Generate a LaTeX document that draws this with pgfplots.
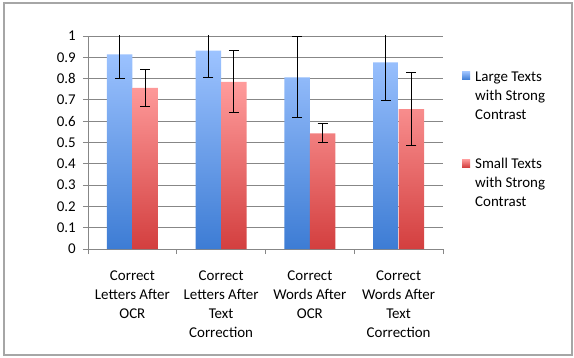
\documentclass[border=0pt]{standalone}
\usepackage{fontspec}
\setmainfont{Carlito}
\usepackage{pgfplots}
\usepackage{pgfplotstable}
\pgfplotsset{compat=1.18}
\definecolor{bluetop}{HTML}{9DC3FF}
\definecolor{bluebot}{HTML}{3D7CD4}
\definecolor{redtop}{HTML}{FF9C9C}
\definecolor{redbot}{HTML}{D33F3F}
\definecolor{gridgray}{HTML}{878787}
\definecolor{framegray}{HTML}{A6A6A6}
\pgfplotstableread{
x y e
0 0.914 0.114
1 0.931 0.125
2 0.806 0.190
3 0.876 0.181
}\largetab
\pgfplotstableread{
x y e
0 0.757 0.087
1 0.785 0.145
2 0.543 0.045
3 0.657 0.172
}\smalltab
\begin{document}
\fontsize{15}{19}\selectfont
\begin{tikzpicture}
\useasboundingbox (-88bp,-109bp) rectangle (486bp,249bp);
\draw[framegray, line width=1.2bp] (-84bp,-106bp) rectangle (484bp,246bp);
\begin{axis}[
  at={(0,0)}, anchor=south west,
  scale only axis, width=355bp, height=213bp,
  xmin=-0.5, xmax=3.5, ymin=0, ymax=1,
  ybar=0pt, bar width=25.5bp,
  axis x line*=bottom, axis y line*=left,
  axis line style={gridgray, line width=0.8bp, -},
  ytick={0,0.1,0.2,0.3,0.4,0.5,0.6,0.7,0.8,0.9,1},
  yticklabels={0,0.1,0.2,0.3,0.4,0.5,0.6,0.7,0.8,0.9,1},
  yticklabel style={xshift=-2bp},
  ymajorgrids, major grid style={gridgray, line width=0.8bp},
  tick align=outside, major tick length=5bp, minor tick length=5bp,
  y tick style={gridgray, line width=0.8bp},
  xtick={0,1,2,3},
  xticklabels={{Correct\\Letters After\\OCR},{Correct\\Letters After\\Text\\Correction},{Correct\\Words After\\OCR},{Correct\\Words After\\Text\\Correction}},
  xticklabel style={align=center, yshift=-12bp},
  x tick style={draw=none},
  minor xtick={-0.5,0.5,1.5,2.5,3.5},
  minor x tick style={gridgray, line width=0.8bp, draw=gridgray},
  legend style={at={(axis description cs:1.0535,0.851)}, anchor=north west, draw=none, fill=none, inner sep=0pt, row sep=72bp, column sep=5bp, nodes={inner sep=0pt}, cells={anchor=base west}},
  legend image code/.code={\path[#1, draw=none] (0bp,1.5bp) rectangle (8bp,9.5bp);},
]
\addplot[draw=none, top color=bluetop, bottom color=bluebot,
  error bars/.cd, y dir=both, y explicit,
  error bar style={black, line width=1bp},
  error mark options={rotate=90, black, mark size=5bp, line width=1bp}]
  table[x=x, y=y, y error=e] {\largetab};
\addlegendentry{\begin{tabular}[t]{@{}l@{}}Large Texts\\with Strong\\Contrast\end{tabular}}
\addplot[draw=none, top color=redtop, bottom color=redbot,
  error bars/.cd, y dir=both, y explicit,
  error bar style={black, line width=1bp},
  error mark options={rotate=90, black, mark size=5bp, line width=1bp}]
  table[x=x, y=y, y error=e] {\smalltab};
\addlegendentry{\begin{tabular}[t]{@{}l@{}}Small Texts\\with Strong\\Contrast\end{tabular}}
\end{axis}
\end{tikzpicture}
\end{document}
